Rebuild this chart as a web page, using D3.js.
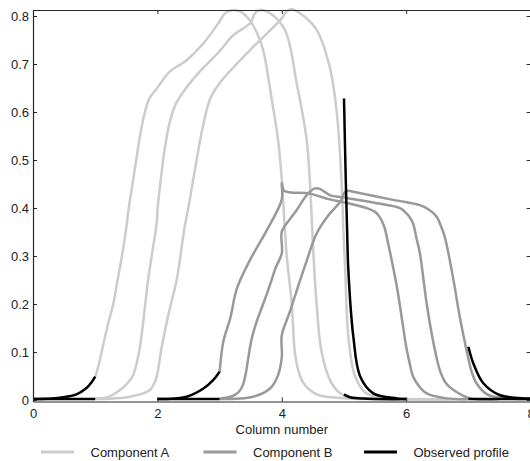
<!DOCTYPE html>
<html>
<head>
<meta charset="utf-8">
<script src="https://cdn.jsdelivr.net/npm/d3@7"></script>
<style>
  body { margin: 0; background: #fff; }
  svg text { font-family: "Liberation Sans", Arial, sans-serif; font-size: 13px; fill: #222; }
</style>
</head>
<body>
<svg id="chart" width="530" height="461"></svg>
<script>
// tick values
var xTicks = [0, 2, 4, 6, 8];
var yTicks = [0, 0.1, 0.2, 0.3, 0.4, 0.5, 0.6, 0.7, 0.8];

// Component A, three snapshots (column number, concentration)
var compA1 = [[1.0,0.048],[1.05,0.07],[1.12,0.11],[1.2,0.155],[1.29,0.2],[1.36,0.25],[1.43,0.3],[1.49,0.35],
  [1.54,0.4],[1.6,0.45],[1.66,0.5],[1.72,0.55],[1.79,0.595],[1.87,0.628],[1.99,0.649],[2.2,0.684],[2.47,0.708],
  [2.74,0.743],[2.98,0.785],[3.09,0.806],[3.22,0.8125],[3.35,0.808],[3.49,0.79],[3.6,0.765],[3.7,0.729],
  [3.84,0.625],[3.94,0.542],[4.0,0.458],[4.05,0.354],[4.08,0.3],[4.16,0.2],[4.21,0.1],[4.27,0.06],
  [4.35,0.035],[4.56,0.012],[5.0,0.004],[6.0,0.002],[7.0,0.002]];
var compA2 = [[1.0,0.003],[1.2,0.006],[1.4,0.021],[1.52,0.035],[1.61,0.052],[1.67,0.078],[1.72,0.111],[1.8,0.194],
  [1.85,0.25],[1.92,0.31],[1.99,0.37],[2.0,0.395],[2.05,0.455],[2.12,0.525],[2.2,0.58],[2.3,0.618],[2.45,0.648],
  [2.68,0.684],[2.98,0.724],[3.22,0.76],[3.49,0.785],[3.57,0.806],[3.65,0.8125],[3.81,0.806],[4.05,0.771],
  [4.24,0.66],[4.4,0.542],[4.45,0.458],[4.49,0.354],[4.51,0.3],[4.56,0.2],[4.64,0.1],[4.8,0.035],
  [4.99,0.01],[5.5,0.003],[7.0,0.002]];
var compA3 = [[1.0,0.002],[1.56,0.007],[1.88,0.021],[1.95,0.035],[1.99,0.049],[2.07,0.111],[2.18,0.18],[2.31,0.25],
  [2.37,0.3],[2.43,0.354],[2.52,0.417],[2.63,0.5],[2.74,0.575],[2.85,0.628],[3.0,0.66],[3.49,0.729],
  [4.0,0.795],[4.08,0.81],[4.16,0.814],[4.3,0.805],[4.56,0.771],[4.77,0.694],[4.88,0.604],[4.96,0.458],
  [4.99,0.354],[5.02,0.27],[5.07,0.132],[5.18,0.049],[5.36,0.014],[5.7,0.004],[7.0,0.002]];

// Component B, three snapshots
var compB1 = [[3.0,0.058],[3.06,0.122],[3.17,0.17],[3.28,0.233],[3.49,0.292],[3.76,0.354],[4.0,0.418],[4.0,0.452],
  [4.04,0.436],[4.45,0.43],[4.77,0.418],[5.0,0.412],[5.36,0.4],[5.5,0.392],[5.58,0.38],[5.65,0.36],[5.71,0.326],
  [5.85,0.236],[5.95,0.153],[6.0,0.111],[6.05,0.08],[6.11,0.049],[6.2,0.03],[6.33,0.014],[6.65,0.0035],[7.0,0.002]];
var compB2 = [[3.0,0.003],[3.2,0.008],[3.3,0.016],[3.37,0.03],[3.42,0.055],[3.47,0.095],[3.52,0.13],[3.6,0.165],
  [3.7,0.2],[3.81,0.24],[3.9,0.275],[4.0,0.306],[4.0,0.351],[4.12,0.375],[4.24,0.396],[4.36,0.42],[4.45,0.434],[4.53,0.441],
  [4.61,0.44],[4.77,0.427],[4.99,0.422],[5.53,0.41],[5.9,0.4],[5.98,0.392],[6.05,0.382],[6.11,0.368],[6.16,0.34],
  [6.22,0.306],[6.33,0.2],[6.44,0.118],[6.54,0.0625],[6.64,0.035],[6.76,0.021],[7.03,0.0035],[7.5,0.002]];
var compB3 = [[3.0,0.002],[3.54,0.007],[3.81,0.024],[3.94,0.052],[4.0,0.09],[4.0,0.135],[4.13,0.184],[4.27,0.24],
  [4.4,0.29],[4.56,0.347],[4.75,0.385],[4.94,0.413],[5.02,0.434],[5.07,0.436],[5.15,0.434],[5.79,0.417],
  [6.22,0.406],[6.35,0.398],[6.49,0.382],[6.55,0.365],[6.62,0.34],[6.76,0.25],[6.86,0.174],[6.97,0.104],
  [7.05,0.06],[7.13,0.035],[7.3,0.012],[7.6,0.004],[8.0,0.002]];

// Observed profile, one pair of traces per sampled column
var obsCol0a = [[0,0.002],[1,0.002]];
var obsCol0b = [[0,0.002],[0.3,0.003],[0.49,0.006],[0.7,0.012],[0.86,0.025],[0.93,0.035],[1.0,0.049]];
var obsCol2a = [[2,0.002],[3,0.002]];
var obsCol2b = [[2,0.002],[2.47,0.007],[2.74,0.024],[2.9,0.042],[3.0,0.059]];
var obsCol5a = [[5.0,0.628],[5.03,0.45],[5.05,0.354],[5.07,0.27],[5.15,0.132],[5.26,0.049],[5.47,0.014],[5.85,0.0035],[6.0,0.002]];
var obsCol5b = [[5.0,0.012],[5.1,0.006],[5.3,0.003],[6.0,0.002]];
var obsCol7a = [[7.0,0.111],[7.08,0.076],[7.24,0.035],[7.51,0.01],[7.94,0.0035],[8.0,0.003]];
var obsCol7b = [[7,0.002],[8,0.002]];

var legendLabels = ["Component A", "Component B", "Observed profile"];
var colA = "#cccccc", colB = "#999999", colObs = "#000000";

var margin = {left: 33, top: 10, right: 530.6, bottom: 401.5};

var svg = d3.select("#chart");

var x = d3.scaleLinear().domain([0, 8]).range([margin.left, margin.right]);
var y = d3.scaleLinear().domain([-0.003, 0.8125]).range([margin.bottom, margin.top]);

var line = d3.line()
    .x(function(d) { return x(d[0]); })
    .y(function(d) { return y(d[1]); })
    .curve(d3.curveCatmullRom.alpha(0.5));

function drawSeries(data, color) {
    svg.append("path")
        .datum(data)
        .attr("d", line)
        .attr("fill", "none")
        .attr("stroke", color)
        .attr("stroke-width", 2.5)
        .attr("stroke-linejoin", "round")
        .attr("stroke-linecap", "butt");
}

[compA1, compA2, compA3].forEach(function(s) { drawSeries(s, colA); });
[compB1, compB2, compB3].forEach(function(s) { drawSeries(s, colB); });
[obsCol0a, obsCol0b, obsCol2a, obsCol2b, obsCol5a, obsCol5b, obsCol7a, obsCol7b]
    .forEach(function(s) { drawSeries(s, colObs); });

//-------------------------------------------------
// frame with inward ticks on all four sides
//-------------------------------------------------
var frameColor = "#262626";

var bottomAxis = d3.axisBottom(x).tickValues(xTicks).tickSizeInner(-4).tickSizeOuter(0).tickPadding(7);
var topAxis = d3.axisTop(x).tickValues(xTicks).tickSizeInner(-4).tickSizeOuter(0).tickFormat("");
var leftAxis = d3.axisLeft(y).tickValues(yTicks).tickSizeInner(-4).tickSizeOuter(0).tickPadding(4)
    .tickFormat(function(d) { return d === 0 ? "0" : d3.format(".1f")(d); });
var rightAxis = d3.axisRight(y).tickValues(yTicks).tickSizeInner(-4).tickSizeOuter(0).tickFormat("");

var gb = svg.append("g").attr("transform", "translate(0," + margin.bottom + ")").call(bottomAxis);
var gt = svg.append("g").attr("transform", "translate(0," + margin.top + ")").call(topAxis);
var gl = svg.append("g").attr("transform", "translate(" + margin.left + ",0)").call(leftAxis);
var gr = svg.append("g").attr("transform", "translate(" + margin.right + ",0)").call(rightAxis);

[gb, gt, gl, gr].forEach(function(g) {
    g.select(".domain").attr("stroke", frameColor).attr("stroke-width", 1.2);
    g.selectAll(".tick line").attr("stroke", frameColor);
    g.selectAll("text").attr("font-family", null).attr("font-size", null).attr("fill", "#222");
});

svg.append("text")
    .attr("x", (margin.left + margin.right) / 2)
    .attr("y", 433.5)
    .attr("text-anchor", "middle")
    .text("Column number");

//-------------------------------------------------
// legend under the axis
//-------------------------------------------------
var legendX = [41, 203.5, 364];
var legendColors = [colA, colB, colObs];
var legendY = 452;

legendLabels.forEach(function(label, i) {
    svg.append("line")
        .attr("x1", legendX[i]).attr("x2", legendX[i] + 33)
        .attr("y1", legendY).attr("y2", legendY)
        .attr("stroke", legendColors[i])
        .attr("stroke-width", 3);
    svg.append("text")
        .attr("x", legendX[i] + 49.5)
        .attr("y", legendY + 4.5)
        .text(label);
});
</script>
</body>
</html>
